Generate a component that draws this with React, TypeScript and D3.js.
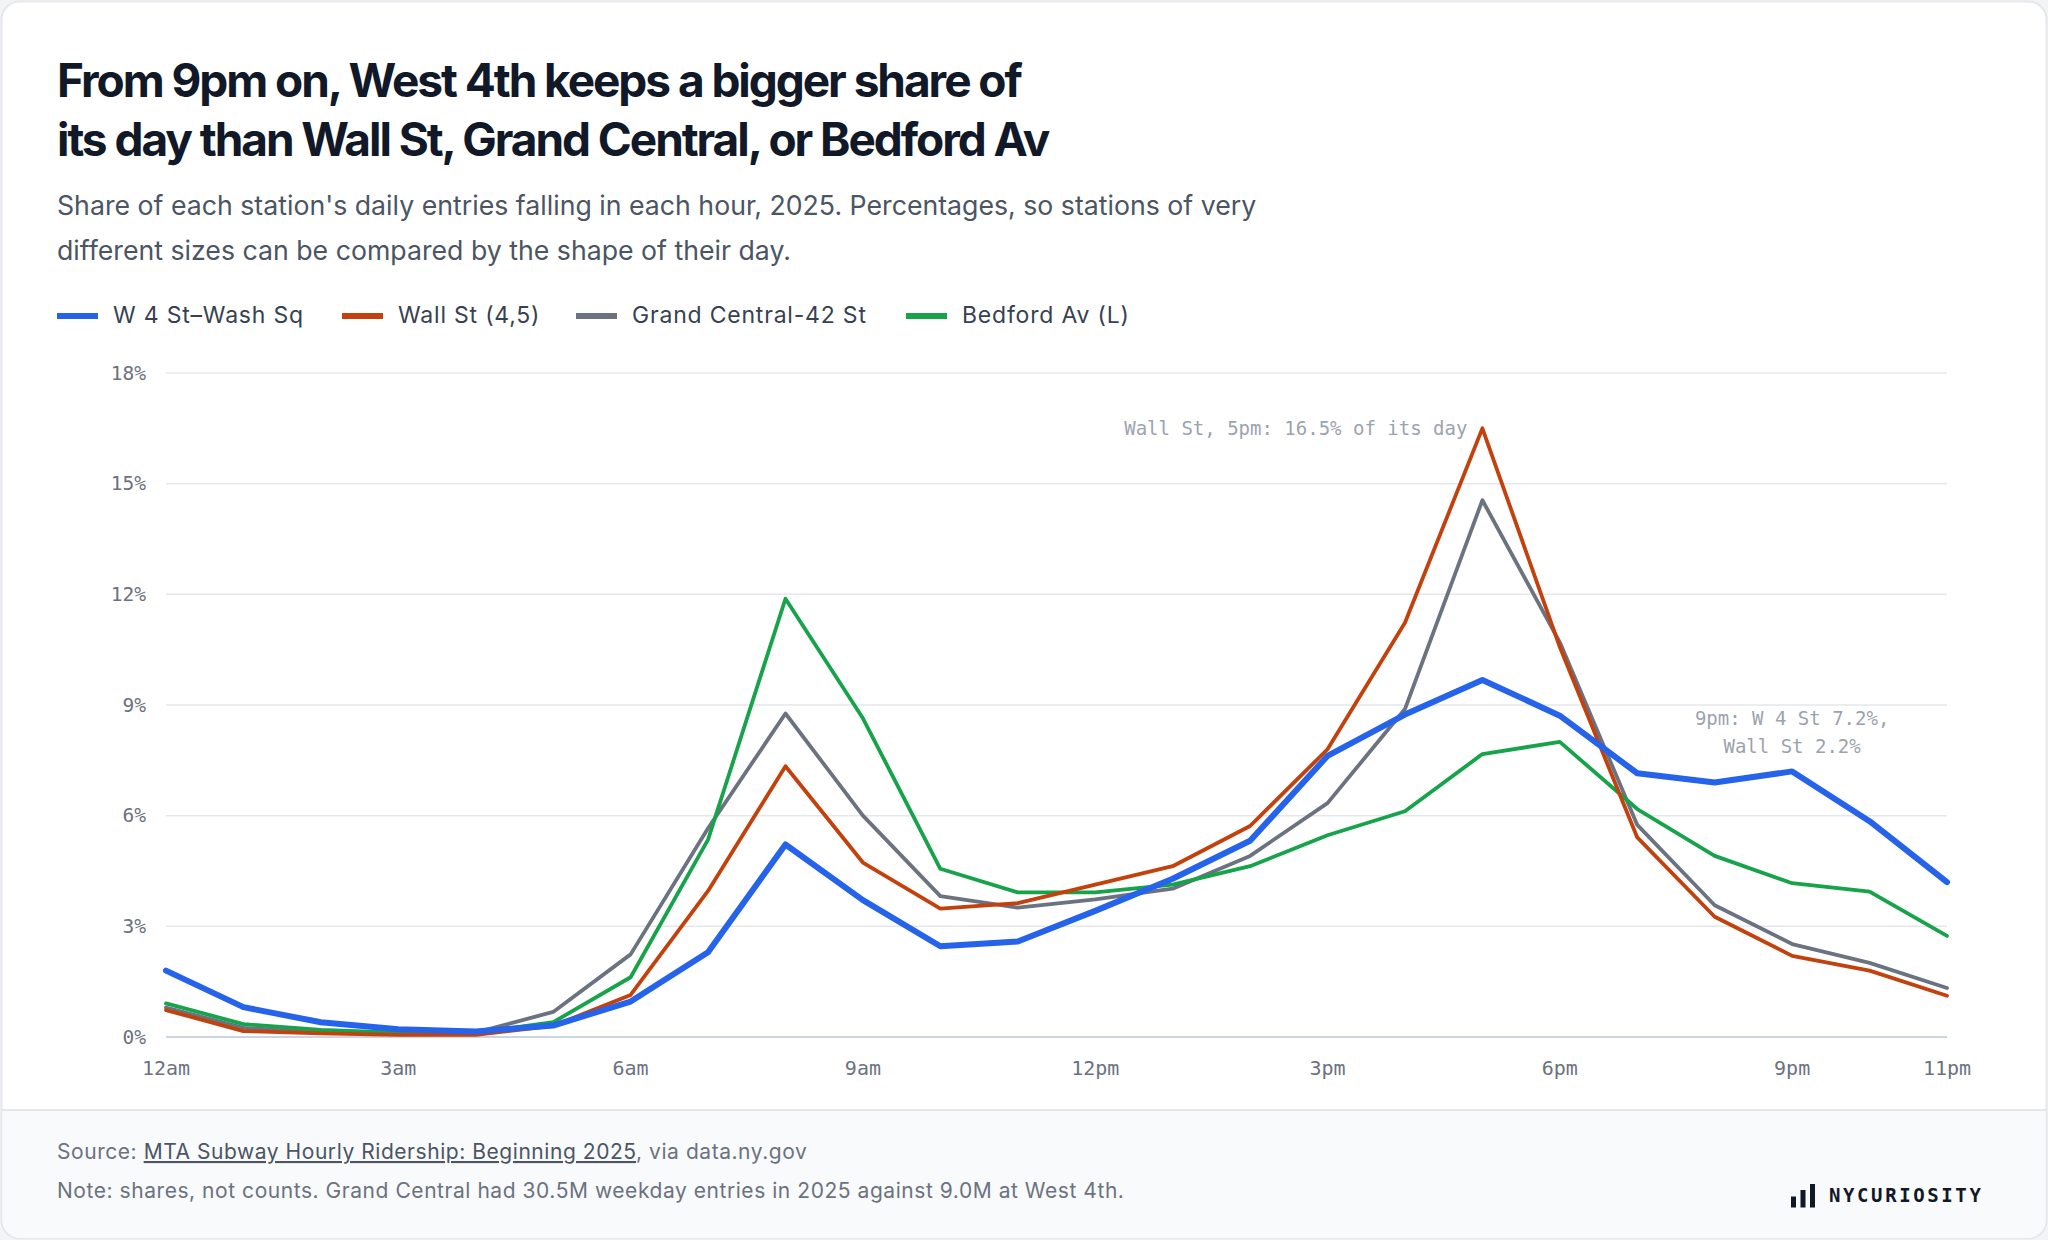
import React from "react";
import * as d3 from "d3";

// hourly share of daily entries (%), 2025
const hours = d3.range(24);
const w4Share = [1.8, 0.81, 0.4, 0.21, 0.15, 0.31, 0.96, 2.3, 5.22, 3.71, 2.46, 2.59, 3.42, 4.29, 5.32, 7.62, 8.74, 9.68, 8.71, 7.15, 6.9, 7.2, 5.85, 4.2];
const wallShare = [0.73, 0.16, 0.1, 0.06, 0.06, 0.3, 1.14, 3.96, 7.34, 4.73, 3.48, 3.63, 4.13, 4.63, 5.72, 7.8, 11.23, 16.5, 10.57, 5.41, 3.26, 2.2, 1.8, 1.12];
const gcShare = [0.8, 0.25, 0.12, 0.09, 0.12, 0.68, 2.24, 5.66, 8.77, 6.0, 3.82, 3.51, 3.73, 4.02, 4.91, 6.34, 8.89, 14.55, 10.7, 5.75, 3.57, 2.52, 2.01, 1.33];
const bedfordShare = [0.91, 0.35, 0.19, 0.12, 0.11, 0.4, 1.62, 5.35, 11.88, 8.64, 4.56, 3.92, 3.92, 4.13, 4.63, 5.47, 6.12, 7.67, 8.0, 6.18, 4.91, 4.17, 3.94, 2.74];

const seriesNames = ["W 4 St\u2013Wash Sq", "Wall St (4,5)", "Grand Central-42 St", "Bedford Av (L)"];
const seriesColors = ["#2563eb", "#c2410c", "#6b7280", "#16a34a"];

const xTicks = [0, 3, 6, 9, 12, 15, 18, 21, 23];
const xTickLabels = ["12am", "3am", "6am", "9am", "12pm", "3pm", "6pm", "9pm", "11pm"];
const yTicks = [0, 3, 6, 9, 12, 15, 18];

const W = 2048;
const H = 1240;
const sans = "Inter, 'Noto Sans', sans-serif";
const mono = "'DejaVu Sans Mono', monospace";

export default function App() {
  const x = d3.scaleLinear().domain([0, 23]).range([166, 1947]);
  const y = d3.scaleLinear().domain([0, 18]).range([1037, 373]);
  const line = d3
    .line<number>()
    .x((_, i) => x(hours[i]))
    .y((d) => y(d));

  const series = [w4Share, wallShare, gcShare, bedfordShare];
  // draw order: gray, green, red, blue on top
  const drawOrder = [2, 3, 1, 0];
  const legendX = [57, 342, 576, 906];

  return (
    <div style={{ position: "absolute", left: 0, top: 0 }}>
      <svg width={W} height={H} style={{ display: "block" }}>
        <rect x={0} y={0} width={W} height={H} fill="#f3f4f6" />
        <rect x={1.5} y={1.5} width={W - 3} height={H - 3} rx={18} fill="#ffffff" stroke="#e5e7eb" strokeWidth={2} />
        {/* footer band */}
        <path
          d={`M2.5,1110 H${W - 2.5} V${H - 20} a18,18 0 0 1 -18,18 H20.5 a18,18 0 0 1 -18,-18 Z`}
          fill="#f9fafb"
        />
        <line x1={2} x2={W - 2} y1={1110} y2={1110} stroke="#e5e7eb" strokeWidth={2} />

        {/* title */}
        <text fontFamily={sans} fontWeight={700} fontSize={46} fill="#111827" letterSpacing={-2.05}>
          <tspan x={57} y={97}>From 9pm on, West 4th keeps a bigger share of</tspan>
          <tspan x={57} y={156}>its day than Wall St, Grand Central, or Bedford Av</tspan>
        </text>
        <text fontFamily={sans} fontSize={26.7} fill="#4b5563">
          <tspan x={57} y={215}>Share of each station's daily entries falling in each hour, 2025. Percentages, so stations of very</tspan>
          <tspan x={57} y={260}>different sizes can be compared by the shape of their day.</tspan>
        </text>

        {/* legend */}
        {seriesNames.map((name, i) => (
          <g key={name}>
            <rect x={legendX[i]} y={313} width={41} height={6} fill={seriesColors[i]} />
            <text x={legendX[i] + 56} y={323} fontFamily={sans} fontSize={23} letterSpacing={0.8} fill="#374151">
              {name}
            </text>
          </g>
        ))}

        {/* grid + y axis */}
        {yTicks.map((t) => (
          <g key={t}>
            <line
              x1={x(0)}
              x2={x(23)}
              y1={y(t)}
              y2={y(t)}
              stroke={t === 0 ? "#cbd5e1" : "#e5e7eb"}
              strokeWidth={t === 0 ? 2 : 1.5}
            />
            <text x={146} y={y(t)} dy="0.35em" textAnchor="end" fontFamily={mono} fontSize={19.5} fill="#6b7280">
              {t}%
            </text>
          </g>
        ))}
        {xTicks.map((t, i) => (
          <text key={t} x={x(t)} y={1075} textAnchor="middle" fontFamily={mono} fontSize={20} fill="#6b7280">
            {xTickLabels[i]}
          </text>
        ))}

        {/* lines */}
        {drawOrder.map((i) => (
          <path
            key={seriesNames[i]}
            d={line(series[i]) || ""}
            fill="none"
            stroke={seriesColors[i]}
            strokeWidth={i === 0 ? 6 : 3.8}
            strokeLinejoin="round"
            strokeLinecap="round"
          />
        ))}

        {/* annotations */}
        <text x={x(17) - 15} y={y(16.5)} dy="0.35em" textAnchor="end" fontFamily={mono} fontSize={19} fill="#9ca3af">
          Wall St, 5pm: 16.5% of its day
        </text>
        <text textAnchor="middle" fontFamily={mono} fontSize={19} fill="#9ca3af">
          <tspan x={x(21)} y={y(7.2) - 53} dy="0.35em">9pm: W 4 St 7.2%,</tspan>
          <tspan x={x(21)} y={y(7.2) - 25} dy="0.35em">Wall St 2.2%</tspan>
        </text>

        {/* footer */}
        <text x={57} y={1159} fontFamily={sans} fontSize={21} letterSpacing={0.55} fill="#6b7280">
          Source:{" "}
          <tspan fill="#4b5563" textDecoration="underline">MTA Subway Hourly Ridership: Beginning 2025</tspan>
          , via data.ny.gov
        </text>
        <text x={57} y={1198} fontFamily={sans} fontSize={21} letterSpacing={0.55} fill="#6b7280">
          Note: shares, not counts. Grand Central had 30.5M weekday entries in 2025 against 9.0M at West 4th.
        </text>

        {/* logo */}
        <g fill="#111827">
          <rect x={1791} y={1196.5} width={5} height={11} />
          <rect x={1800.5} y={1190} width={5} height={17.5} />
          <rect x={1810} y={1184} width={5} height={23.5} />
        </g>
        <text x={1829} y={1202} fontFamily={mono} fontWeight={700} fontSize={19} letterSpacing={2.6} fill="#111827">
          NYCURIOSITY
        </text>
      </svg>
    </div>
  );
}
